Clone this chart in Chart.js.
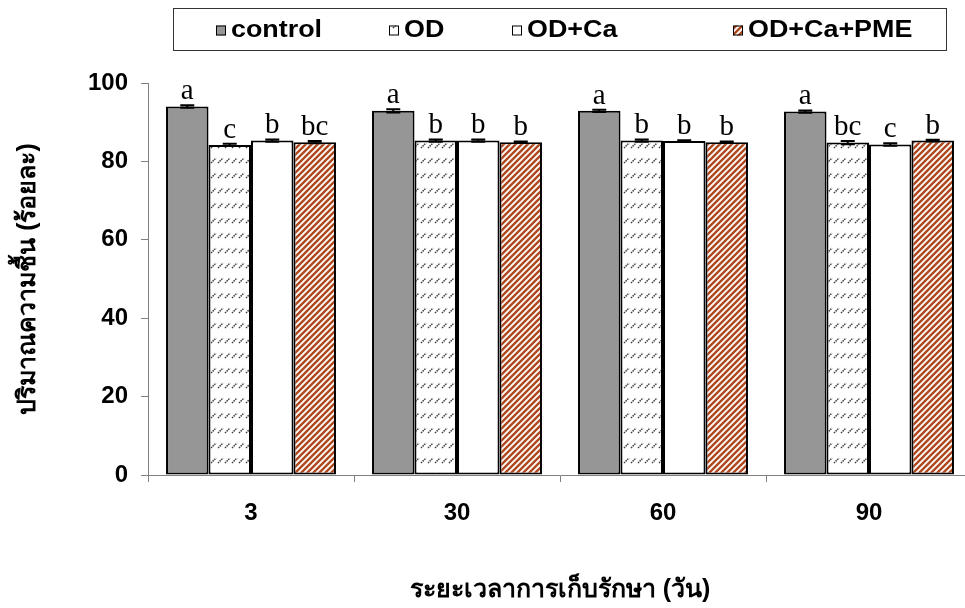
<!DOCTYPE html>
<html>
<head>
<meta charset="utf-8">
<script src="https://cdn.jsdelivr.net/npm/chart.js@4/dist/chart.umd.min.js"></script>
<style>
  html, body { margin: 0; padding: 0; background: #fff; width: 965px; height: 608px; overflow: hidden; }
  canvas { display: block; }
</style>
</head>
<body>
<canvas id="c" width="985" height="608"></canvas>
<script>
// Storage time (days)
const days = ['3', '30', '60', '90'];
const seriesNames = ['control', 'OD', 'OD+Ca', 'OD+Ca+PME'];

// Moisture content (%) per treatment
const control = [94.0, 92.9, 92.9, 92.7];
const od = [84.2, 85.3, 85.3, 84.8];
const odCa = [85.3, 85.3, 85.2, 84.3];
const odCaPme = [84.9, 84.9, 84.9, 85.3];

// Standard errors
const controlErr = [0.3, 0.4, 0.3, 0.3];
const odErr = [0.3, 0.3, 0.3, 0.4];
const odCaErr = [0.3, 0.3, 0.2, 0.3];
const odCaPmeErr = [0.3, 0.2, 0.2, 0.2];

// Significance letters
const controlLetters = ['a', 'a', 'a', 'a'];
const odLetters = ['c', 'b', 'b', 'bc'];
const odCaLetters = ['b', 'b', 'b', 'c'];
const odCaPmeLetters = ['bc', 'b', 'b', 'b'];

const yTicks = [0, 20, 40, 60, 80, 100];

const SANS = "'Liberation Sans', Arial, 'Noto Sans', sans-serif";

// Fill patterns
function dashPattern() {
  const t = document.createElement('canvas');
  t.width = 7; t.height = 15;
  const g = t.getContext('2d');
  g.fillStyle = '#fff';
  g.fillRect(0, 0, 7, 15);
  g.strokeStyle = '#404040';
  g.lineWidth = 1.5;
  g.setLineDash([1.5, 0.8]);
  g.beginPath();
  g.moveTo(1, 13);
  g.lineTo(6, 8);
  g.stroke();
  return g.createPattern(t, 'repeat');
}
function stripePattern() {
  const s = 6;
  const t = document.createElement('canvas');
  t.width = s; t.height = s;
  const g = t.getContext('2d');
  g.fillStyle = '#fff';
  g.fillRect(0, 0, s, s);
  g.strokeStyle = '#B0481E';
  g.lineWidth = 2.4;
  g.beginPath();
  g.moveTo(-s / 2, s / 2); g.lineTo(s / 2, -s / 2);
  g.moveTo(0, s); g.lineTo(s, 0);
  g.moveTo(s / 2, s * 1.5); g.lineTo(s * 1.5, s / 2);
  g.stroke();
  return g.createPattern(t, 'repeat');
}

const fills = ['#969696', dashPattern(), '#ffffff', stripePattern()];
const values = [control, od, odCa, odCaPme];
const errs = [controlErr, odErr, odCaErr, odCaPmeErr];
const letters = [controlLetters, odLetters, odCaLetters, odCaPmeLetters];

const datasets = seriesNames.map((name, i) => ({
  label: name,
  data: values[i],
  errors: errs[i],
  letters: letters[i],
  backgroundColor: fills[i],
  borderColor: '#000',
  borderWidth: 2,
  borderSkipped: false,
  categoryPercentage: 0.825,
  barPercentage: 1.0
}));

// Error bars and significance letters
const annotate = {
  id: 'annotate',
  afterDatasetsDraw(chart) {
    const ctx = chart.ctx;
    const y = chart.scales.y;
    ctx.save();
    chart.data.datasets.forEach((ds, di) => {
      const meta = chart.getDatasetMeta(di);
      meta.data.forEach((bar, i) => {
        const v = ds.data[i], e = ds.errors[i];
        const top = y.getPixelForValue(v + e);
        const bot = y.getPixelForValue(v - e);
        ctx.strokeStyle = '#000';
        ctx.lineWidth = 2;
        ctx.beginPath();
        ctx.moveTo(bar.x, top); ctx.lineTo(bar.x, bot);
        ctx.moveTo(bar.x - 7, top); ctx.lineTo(bar.x + 7, top);
        ctx.moveTo(bar.x - 7, bot); ctx.lineTo(bar.x + 7, bot);
        ctx.stroke();
        ctx.fillStyle = '#000';
        ctx.font = "29px 'Liberation Serif', 'Times New Roman', serif";
        ctx.textAlign = 'center';
        ctx.textBaseline = 'alphabetic';
        ctx.fillText(ds.letters[i], bar.x, top - 6);
      });
    });
    ctx.restore();
  }
};

// Boxed legend across the top
const boxLegend = {
  id: 'boxLegend',
  afterDraw(chart) {
    const ctx = chart.ctx;
    const box = { x: 173.5, y: 8.5, w: 773, h: 42 };
    const swatchX = [216, 389, 512, 733];
    ctx.save();
    ctx.strokeStyle = '#333';
    ctx.lineWidth = 1;
    ctx.strokeRect(box.x, box.y, box.w, box.h);
    const cy = box.y + box.h / 2 + 1;
    chart.data.datasets.forEach((ds, i) => {
      const sx = swatchX[i];
      ctx.fillStyle = ds.backgroundColor;
      ctx.fillRect(sx, cy - 5, 10, 10);
      ctx.strokeStyle = '#000';
      ctx.lineWidth = 1;
      ctx.strokeRect(sx + 0.5, cy - 4.5, 9, 9);
      ctx.fillStyle = '#000';
      ctx.font = 'bold 24px ' + SANS;
      ctx.textAlign = 'left';
      ctx.textBaseline = 'middle';
      ctx.save();
      ctx.translate(sx + 15, cy);
      ctx.scale(1.12, 1);
      ctx.fillText(ds.label, 0, 0);
      ctx.restore();
    });
    ctx.restore();
  }
};

new Chart(document.getElementById('c'), {
  type: 'bar',
  data: { labels: days, datasets },
  plugins: [annotate, boxLegend],
  options: {
    responsive: false,
    devicePixelRatio: 1,
    animation: false,
    layout: { padding: { top: 83, right: 13, left: 0, bottom: 0 } },
    plugins: {
      legend: { display: false },
      tooltip: { enabled: false }
    },
    scales: {
      x: {
        afterFit(scale) { scale.height = 133; },
        grid: { drawOnChartArea: false, drawTicks: true, tickLength: 7, color: '#808080', offset: true },
        border: { color: '#808080', width: 1 },
        ticks: { color: '#000', font: { family: SANS, size: 24, weight: 'bold' }, padding: 17 },
        title: {
          display: true,
          text: 'ระยะเวลาการเก็บรักษา (วัน)',
          color: '#000',
          font: { family: SANS, size: 25, weight: 'bold' },
          padding: { top: 0, bottom: 3 }
        }
      },
      y: {
        min: 0, max: 100,
        afterFit(scale) { scale.width = 148; },
        afterBuildTicks(scale) { scale.ticks = yTicks.map(v => ({ value: v })); },
        grid: { drawOnChartArea: false, drawTicks: true, tickLength: 7, color: '#808080' },
        border: { color: '#808080', width: 1 },
        ticks: { color: '#000', font: { family: SANS, size: 24, weight: 'bold' }, padding: 13 },
        title: {
          display: true,
          text: 'ปริมาณความชื้น (ร้อยละ)',
          color: '#000',
          font: { family: SANS, size: 25, weight: 'bold' },
          padding: { top: 13, bottom: 0 }
        }
      }
    }
  }
});
</script>
</body>
</html>
